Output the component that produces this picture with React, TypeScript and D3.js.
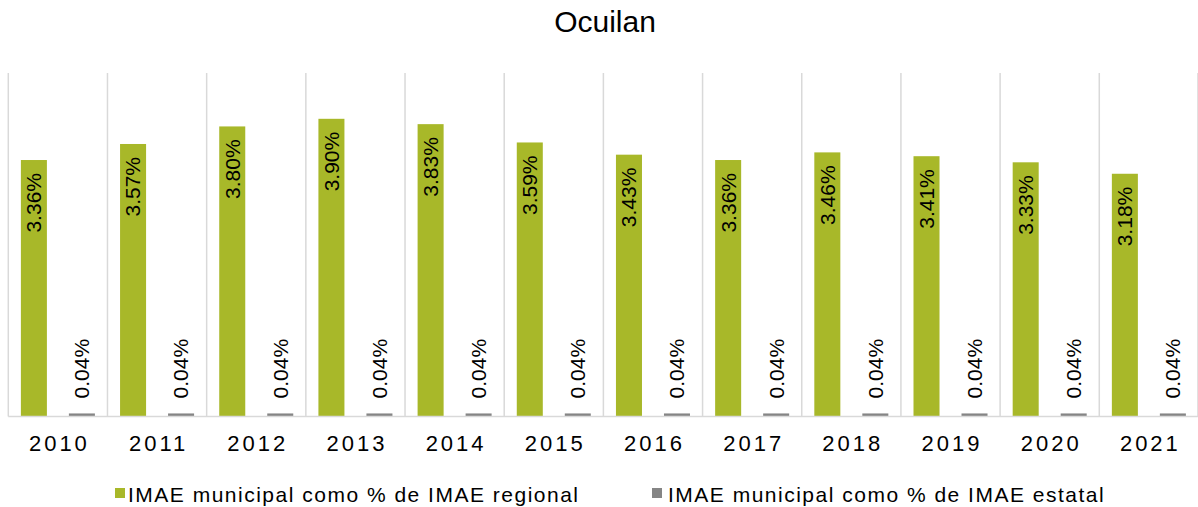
import React from "react";
import * as d3 from "d3";

const title = "Ocuilan";
const years = ["2010","2011","2012","2013","2014","2015","2016","2017","2018","2019","2020","2021"];
const regional = [3.36, 3.57, 3.80, 3.90, 3.83, 3.59, 3.43, 3.36, 3.46, 3.41, 3.33, 3.18];
const estatal = [0.04, 0.04, 0.04, 0.04, 0.04, 0.04, 0.04, 0.04, 0.04, 0.04, 0.04, 0.04];
const seriesNames = ["IMAE municipal como % de IMAE regional", "IMAE municipal como % de IMAE estatal"];
const yMax = 4.5;

const W = 1198, H = 507;
const GREEN = "#a8b829";
const GRAY = "#858585";
const GRID = "#d9d9d9";
const FONT = "'Liberation Sans', Arial, sans-serif";

export default function App() {
  const x0 = 8.3, x1 = 8.3 + 12 * 99.18;
  const yTop = 73, yBase = 416.5;
  const x = d3.scaleBand<string>().domain(years).range([x0, x1]).paddingInner(0).paddingOuter(0);
  const sub = d3.scaleBand<string>().domain(["r", "e"]).range([0, x.bandwidth()]).paddingInner(0.458).paddingOuter(0.262);
  const y = d3.scaleLinear().domain([0, yMax]).range([yBase, yTop]);
  const fmt = (v: number) => v.toFixed(2) + "%";

  return (
    <svg width={W} height={H} style={{ position: "absolute", left: 0, top: 0, background: "#fff" }} fontFamily={FONT}>
      <rect x={0} y={0} width={W} height={H} fill="#fff" />
      <text x={605} y={32} textAnchor="middle" fontSize={30} fill="#000">{title}</text>
      {/* vertical gridlines */}
      {years.map((yr, i) => (
        <line key={"g" + i} x1={x(yr)!} x2={x(yr)!} y1={yTop} y2={yBase} stroke={GRID} strokeWidth={1.5} />
      ))}
      <line x1={x1 - 0.5} x2={x1 - 0.5} y1={yTop} y2={yBase} stroke={GRID} strokeWidth={1.5} />
      {/* bars */}
      {years.map((yr, i) => {
        const bx = x(yr)! + sub("r")!;
        const gx = x(yr)! + sub("e")!;
        const bw = sub.bandwidth();
        const ty = y(regional[i]);
        const tg = y(estatal[i]);
        return (
          <g key={"b" + i}>
            <rect x={bx} y={ty} width={bw} height={yBase - ty} fill={GREEN} />
            <rect x={gx} y={tg} width={bw} height={yBase - tg} fill={GRAY} />
            <text transform={`translate(${bx + bw / 2},${ty + 13}) rotate(-90)`} textAnchor="end" dy="0.35em" fontSize={21} fill="#000">{fmt(regional[i])}</text>
            <text transform={`translate(${gx + bw / 2},${tg - 15}) rotate(-90)`} textAnchor="start" dy="0.35em" fontSize={21} fill="#000">{fmt(estatal[i])}</text>
          </g>
        );
      })}
      {/* x axis */}
      <line x1={x0} x2={x1} y1={yBase} y2={yBase} stroke={GRID} strokeWidth={1.5} />
      {years.map((yr) => (
        <text key={"t" + yr} x={x(yr)! + x.bandwidth() / 2 + 1.5} y={451} textAnchor="middle" fontSize={22} letterSpacing={3} fill="#000">{yr}</text>
      ))}
      {/* legend */}
      <rect x={115} y={488} width={10} height={10} fill={GREEN} />
      <text x={128} y={501.5} fontSize={21} letterSpacing={1.5} fill="#000">{seriesNames[0]}</text>
      <rect x={652} y={488} width={10} height={10} fill={GRAY} />
      <text x={668} y={501.5} fontSize={21} letterSpacing={1.5} fill="#000">{seriesNames[1]}</text>
    </svg>
  );
}
